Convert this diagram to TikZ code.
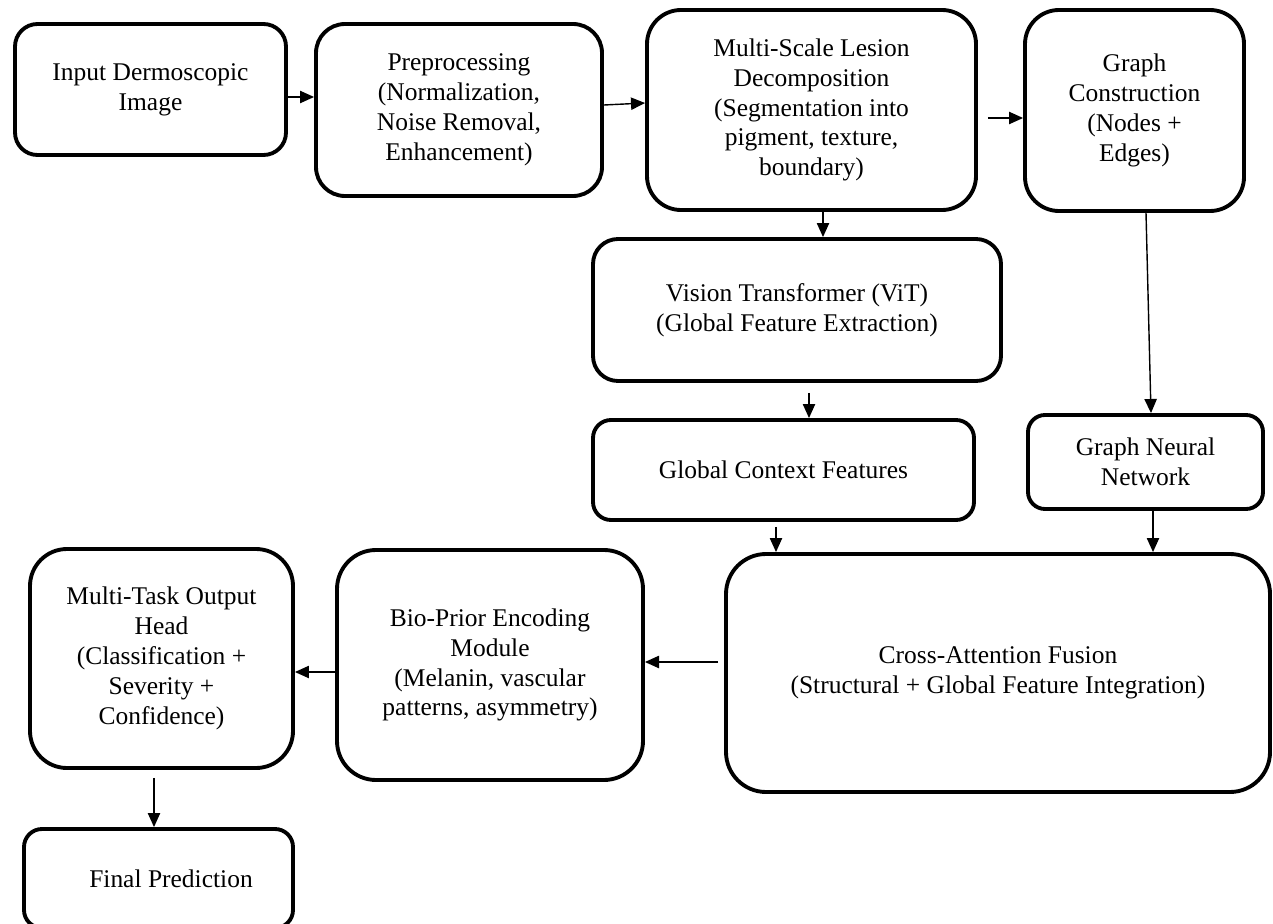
\documentclass[tikz,border=0pt]{standalone}
\usepackage{fontspec}
\setmainfont{Liberation Serif}
\usepackage{tikz}
\usetikzlibrary{arrows.meta,positioning,calc}

\begin{document}
\begin{tikzpicture}[
  box/.style={rectangle, draw, line width=2.2pt, rounded corners=0.45cm, align=center, font=\fontsize{14.5}{17}\selectfont},
  arr/.style={-{Triangle[length=8pt, width=7pt]}, line width=0.8pt},
  every node/.style={inner sep=2pt}
]
\useasboundingbox (0,0) rectangle (25.46,-18.48);

% Top row
\node[box, minimum width=5.42cm, minimum height=2.62cm] (input) at (3.01,-1.79) {Input Dermoscopic\\Image};
\node[box, minimum width=5.72cm, minimum height=3.44cm, rounded corners=0.58cm] (prep) at (9.18,-2.2) {Preprocessing\\(Normalization,\\Noise Removal,\\Enhancement)};
\node[box, minimum width=6.58cm, minimum height=4.0cm, rounded corners=0.68cm] (decomp) at (16.23,-2.2) {Multi-Scale Lesion\\Decomposition\\(Segmentation into\\pigment, texture,\\boundary)};
\node[box, minimum width=4.38cm, minimum height=4.02cm, rounded corners=0.68cm] (graph) at (22.69,-2.21) {Graph\\Construction\\(Nodes +\\Edges)};
\draw[arr] ([yshift=-0.15cm]input.east) -- ([yshift=-0.15cm]input.east -| prep.west);
\draw[arr] ([yshift=0.1cm]prep.east) -- ([yshift=0.14cm]decomp.west);
\draw[arr, shorten <=0.2cm] ([yshift=-0.16cm]decomp.east) -- ([yshift=-0.16cm]decomp.east -| graph.west);

% Middle: two branches
\node[box, minimum width=8.16cm, minimum height=2.84cm, rounded corners=0.5cm] (vit) at (15.94,-6.2) {Vision Transformer (ViT)\\(Global Feature Extraction)};
\node[box, minimum width=7.62cm, minimum height=2.0cm, rounded corners=0.36cm] (gcf) at (15.67,-9.4) {Global Context Features};
\node[box, minimum width=4.7cm, minimum height=1.88cm, rounded corners=0.34cm] (gnn) at (22.91,-9.24) {Graph Neural\\Network};
\draw[arr] ([xshift=0.23cm]decomp.south) -- ([xshift=0.23cm]decomp.south |- vit.north);
\draw[arr, shorten <=0.2cm] ([xshift=0.24cm]vit.south) -- ([xshift=0.24cm]vit.south |- gcf.north);
\draw[arr] ([xshift=0.23cm]graph.south) -- ([xshift=0.11cm]gnn.north);

% Fusion and bio-prior
\node[box, minimum width=10.88cm, minimum height=4.76cm, rounded corners=0.8cm] (caf) at (19.96,-13.46) {Cross-Attention Fusion\\(Structural + Global Feature Integration)};
\node[box, minimum width=6.12cm, minimum height=4.6cm, rounded corners=0.78cm] (bio) at (9.8,-13.3) {Bio-Prior Encoding\\Module\\(Melanin, vascular\\patterns, asymmetry)};
\draw[arr, shorten <=0.1cm] ([xshift=-0.15cm]gcf.south) -- ([xshift=-0.15cm]gcf.south |- caf.north);
\draw[arr] ([xshift=0.15cm]gnn.south) -- ([xshift=0.15cm]gnn.south |- caf.north);
\draw[arr, shorten <=0.12cm] ([yshift=0.22cm]caf.west) -- ([yshift=0.22cm]caf.west -| bio.east);

% Output
\node[box, minimum width=5.26cm, minimum height=4.38cm, rounded corners=0.74cm] (mt) at (3.23,-13.17) {Multi-Task Output\\Head\\(Classification +\\Severity +\\Confidence)};
\node[box, minimum width=5.38cm, minimum height=1.98cm, rounded corners=0.36cm] (final) at (3.17,-17.57) {\hspace*{0.5cm}Final Prediction};
\draw[arr] ([yshift=-0.14cm]bio.west) -- ([yshift=-0.14cm]bio.west -| mt.east);
\draw[arr, shorten <=0.16cm] ([xshift=-0.15cm]mt.south) -- ([xshift=-0.15cm]mt.south |- final.north);

\end{tikzpicture}
\end{document}
